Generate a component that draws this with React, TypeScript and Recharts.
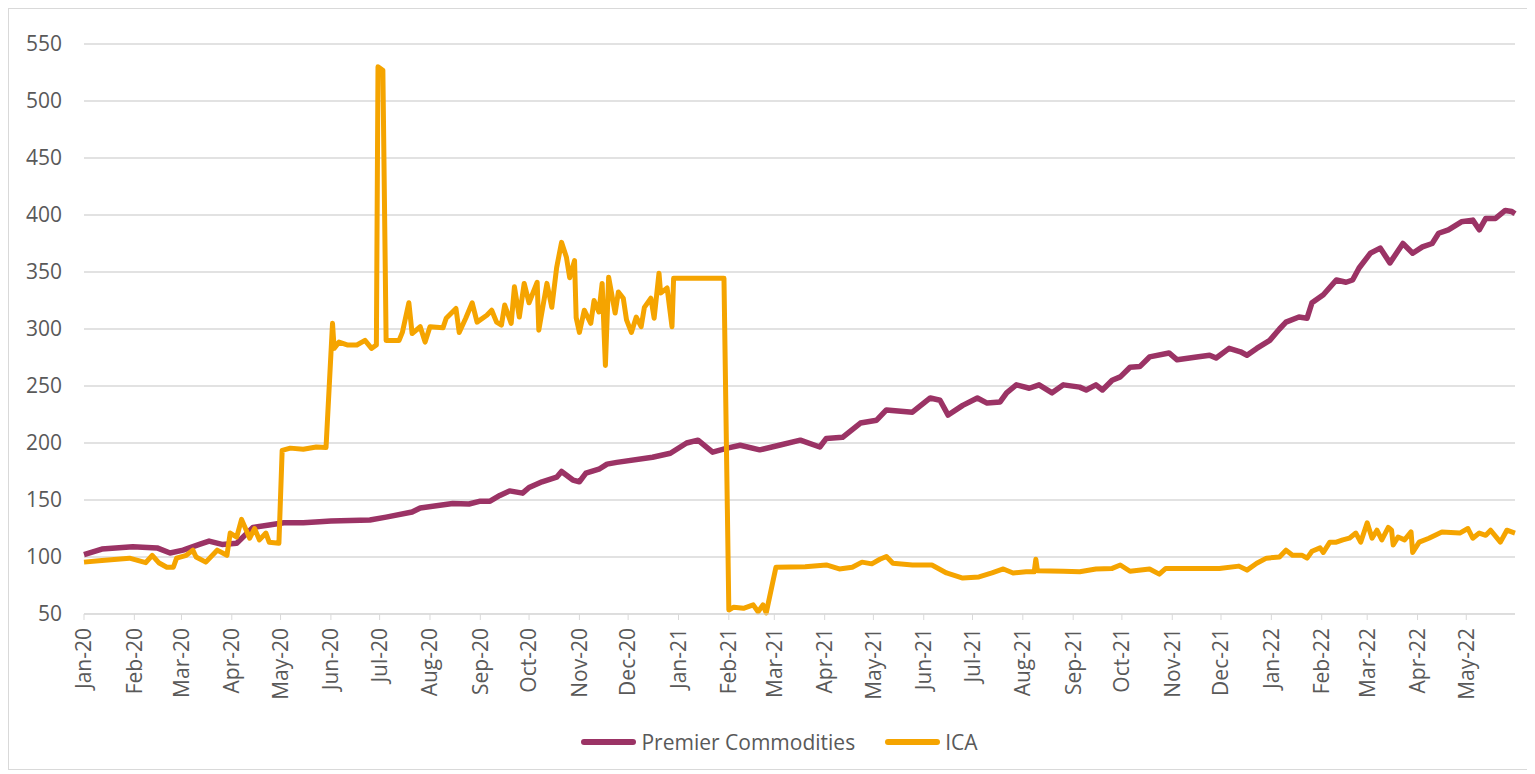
import { CartesianGrid, Legend, Line, LineChart, XAxis, YAxis } from 'recharts';

// [date, index value]
const premierSeries: [string, number][] = [
  ['2020-01-01', 102], ['2020-01-12', 107], ['2020-01-31', 109], ['2020-02-15', 108],
  ['2020-02-23', 103.5], ['2020-03-02', 106], ['2020-03-12', 111], ['2020-03-18', 114],
  ['2020-03-26', 111], ['2020-04-04', 112], ['2020-04-14', 126], ['2020-04-24', 128],
  ['2020-05-03', 130], ['2020-05-15', 130], ['2020-05-25', 131], ['2020-06-01', 131.5],
  ['2020-06-25', 132.5], ['2020-07-05', 135], ['2020-07-21', 139.5], ['2020-07-26', 143],
  ['2020-08-15', 147], ['2020-08-25', 146.5], ['2020-09-01', 149], ['2020-09-07', 149],
  ['2020-09-13', 154], ['2020-09-19', 158], ['2020-09-27', 156], ['2020-10-01', 161],
  ['2020-10-09', 166], ['2020-10-18', 170], ['2020-10-21', 175], ['2020-10-28', 167.5],
  ['2020-11-01', 166], ['2020-11-05', 173.5], ['2020-11-13', 177], ['2020-11-18', 181.5],
  ['2020-11-24', 183], ['2020-12-16', 187.5], ['2020-12-27', 191], ['2021-01-06', 200],
  ['2021-01-13', 202.5], ['2021-01-22', 192], ['2021-01-31', 195.5], ['2021-02-08', 198],
  ['2021-02-20', 194], ['2021-03-04', 198], ['2021-03-17', 202.5], ['2021-03-29', 196.5],
  ['2021-04-02', 204], ['2021-04-12', 205], ['2021-04-23', 217.5], ['2021-05-03', 220],
  ['2021-05-09', 229], ['2021-05-25', 227], ['2021-06-05', 239.5], ['2021-06-11', 237.5],
  ['2021-06-16', 224.5], ['2021-06-25', 233], ['2021-07-04', 239.5], ['2021-07-10', 235],
  ['2021-07-18', 236], ['2021-07-22', 244], ['2021-07-28', 251], ['2021-08-05', 248],
  ['2021-08-11', 251], ['2021-08-19', 244], ['2021-08-26', 251], ['2021-09-05', 249],
  ['2021-09-09', 246.5], ['2021-09-15', 251], ['2021-09-19', 246.5], ['2021-09-25', 255],
  ['2021-09-30', 258], ['2021-10-06', 266.5], ['2021-10-12', 267], ['2021-10-18', 275.5],
  ['2021-10-30', 279], ['2021-11-04', 273], ['2021-11-16', 275.5], ['2021-11-24', 277],
  ['2021-11-28', 274.5], ['2021-12-06', 283], ['2021-12-13', 280], ['2021-12-17', 277],
  ['2021-12-23', 283], ['2021-12-31', 290], ['2022-01-06', 300], ['2022-01-10', 306],
  ['2022-01-18', 310.5], ['2022-01-23', 309.5], ['2022-01-26', 323], ['2022-02-02', 330],
  ['2022-02-10', 343], ['2022-02-16', 341], ['2022-02-20', 343], ['2022-02-24', 353.5],
  ['2022-03-03', 366.5], ['2022-03-09', 371], ['2022-03-15', 358], ['2022-03-23', 375],
  ['2022-03-29', 366.5], ['2022-04-04', 372], ['2022-04-10', 375], ['2022-04-14', 384],
  ['2022-04-20', 387], ['2022-04-28', 394], ['2022-05-05', 395.5], ['2022-05-09', 387],
  ['2022-05-13', 397], ['2022-05-19', 397], ['2022-05-25', 404], ['2022-05-29', 403],
  ['2022-05-31', 401],
];

const icaSeries: [string, number][] = [
  ['2020-01-01', 95.5], ['2020-01-12', 97], ['2020-01-29', 99], ['2020-02-08', 95],
  ['2020-02-12', 101.5], ['2020-02-16', 95], ['2020-02-21', 91], ['2020-02-25', 91],
  ['2020-02-27', 99], ['2020-03-04', 101.5], ['2020-03-08', 106], ['2020-03-10', 100],
  ['2020-03-16', 95.5], ['2020-03-23', 106], ['2020-03-29', 101.5], ['2020-03-31', 121],
  ['2020-04-04', 117.5], ['2020-04-07', 133], ['2020-04-12', 116.5], ['2020-04-15', 125],
  ['2020-04-18', 115], ['2020-04-22', 121], ['2020-04-24', 113], ['2020-04-30', 112],
  ['2020-05-02', 193.5], ['2020-05-07', 195.5], ['2020-05-15', 194.5], ['2020-05-23', 196.5],
  ['2020-05-29', 196], ['2020-06-02', 305], ['2020-06-03', 283], ['2020-06-06', 288.5],
  ['2020-06-11', 286], ['2020-06-17', 286], ['2020-06-22', 290], ['2020-06-26', 283],
  ['2020-06-29', 286], ['2020-06-30', 530], ['2020-07-03', 527], ['2020-07-05', 290],
  ['2020-07-13', 290], ['2020-07-15', 297], ['2020-07-19', 323], ['2020-07-21', 296],
  ['2020-07-26', 302], ['2020-07-29', 288.5], ['2020-08-01', 302], ['2020-08-09', 301],
  ['2020-08-11', 309.5], ['2020-08-17', 318], ['2020-08-19', 297], ['2020-08-23', 309.5],
  ['2020-08-27', 323], ['2020-08-30', 306], ['2020-09-05', 312], ['2020-09-08', 316.5],
  ['2020-09-11', 306], ['2020-09-14', 303.5], ['2020-09-16', 321], ['2020-09-20', 305],
  ['2020-09-22', 337], ['2020-09-25', 310.5], ['2020-09-28', 340], ['2020-10-01', 323],
  ['2020-10-06', 341], ['2020-10-07', 299], ['2020-10-12', 340], ['2020-10-15', 319],
  ['2020-10-18', 354], ['2020-10-21', 376], ['2020-10-24', 363], ['2020-10-26', 345],
  ['2020-10-29', 360], ['2020-10-30', 310], ['2020-11-01', 297], ['2020-11-04', 316.5],
  ['2020-11-08', 305], ['2020-11-10', 325], ['2020-11-13', 315], ['2020-11-15', 340],
  ['2020-11-17', 268], ['2020-11-19', 345.5], ['2020-11-23', 314], ['2020-11-25', 332.5],
  ['2020-11-28', 327], ['2020-11-30', 308], ['2020-12-03', 297], ['2020-12-06', 310.5],
  ['2020-12-09', 302], ['2020-12-11', 319], ['2020-12-15', 327], ['2020-12-17', 309.5],
  ['2020-12-20', 349], ['2020-12-21', 331.5], ['2020-12-25', 336], ['2020-12-28', 302],
  ['2020-12-29', 344.5], ['2021-01-29', 344.5], ['2021-02-01', 53.5], ['2021-02-04', 56],
  ['2021-02-10', 55], ['2021-02-16', 58], ['2021-02-19', 52], ['2021-02-22', 58],
  ['2021-02-24', 51], ['2021-03-02', 91], ['2021-03-20', 91.5], ['2021-04-02', 93],
  ['2021-04-10', 89.5], ['2021-04-18', 91], ['2021-04-24', 95.5], ['2021-04-30', 94],
  ['2021-05-05', 98], ['2021-05-09', 100.5], ['2021-05-13', 94.5], ['2021-05-25', 93],
  ['2021-06-06', 93], ['2021-06-15', 86], ['2021-06-25', 81.5], ['2021-07-05', 82.5],
  ['2021-07-13', 86], ['2021-07-20', 89.5], ['2021-07-26', 86], ['2021-08-03', 87],
  ['2021-08-08', 87], ['2021-08-09', 98], ['2021-08-10', 88], ['2021-08-26', 87.5],
  ['2021-09-05', 87], ['2021-09-15', 89.5], ['2021-09-25', 90], ['2021-09-30', 93],
  ['2021-10-06', 87.5], ['2021-10-18', 89.5], ['2021-10-24', 85], ['2021-10-28', 90],
  ['2021-11-10', 90], ['2021-11-30', 90], ['2021-12-12', 92], ['2021-12-17', 88.5],
  ['2021-12-23', 94.5], ['2021-12-29', 99], ['2022-01-06', 100], ['2022-01-10', 106],
  ['2022-01-14', 101.5], ['2022-01-20', 101.5], ['2022-01-23', 99], ['2022-01-26', 105],
  ['2022-01-31', 108], ['2022-02-02', 104], ['2022-02-06', 113], ['2022-02-10', 113],
  ['2022-02-14', 115], ['2022-02-18', 116.5], ['2022-02-22', 121], ['2022-02-25', 113],
  ['2022-03-01', 130], ['2022-03-04', 116.5], ['2022-03-07', 123.5], ['2022-03-10', 115],
  ['2022-03-14', 126], ['2022-03-16', 123.5], ['2022-03-17', 110.5], ['2022-03-20', 117.5],
  ['2022-03-24', 115], ['2022-03-28', 122], ['2022-03-29', 104], ['2022-04-02', 113],
  ['2022-04-08', 116.5], ['2022-04-16', 122], ['2022-04-27', 121], ['2022-05-02', 125],
  ['2022-05-05', 116.5], ['2022-05-09', 121], ['2022-05-13', 119], ['2022-05-16', 123.5],
  ['2022-05-22', 113], ['2022-05-26', 123.5], ['2022-05-31', 121],
];

const monthLabels = [
  'Jan-20', 'Feb-20', 'Mar-20', 'Apr-20', 'May-20', 'Jun-20', 'Jul-20', 'Aug-20', 'Sep-20',
  'Oct-20', 'Nov-20', 'Dec-20', 'Jan-21', 'Feb-21', 'Mar-21', 'Apr-21', 'May-21', 'Jun-21',
  'Jul-21', 'Aug-21', 'Sep-21', 'Oct-21', 'Nov-21', 'Dec-21', 'Jan-22', 'Feb-22', 'Mar-22',
  'Apr-22', 'May-22',
];
const yTicks = [50, 100, 150, 200, 250, 300, 350, 400, 450, 500, 550];

const PURPLE = '#9b3365';
const ORANGE = '#f5a400';
const TEXT = '#595959';
const GRID = '#d9d9d9';
const FONT = 21;

const dayOf = (iso: string) => Date.parse(iso + 'T00:00:00Z') / 86400000;
const toPoints = (s: [string, number][]) => s.map(([d, v]) => ({ t: dayOf(d), v }));

const premierData = toPoints(premierSeries);
const icaData = toPoints(icaSeries);
const monthTicks = monthLabels.map((_, i) => Date.UTC(2020, i, 1) / 86400000);
const labelFor = new Map(monthTicks.map((t, i) => [t, monthLabels[i]]));

const MonthTick = (props: any) => {
  const { x, y, payload } = props;
  return (
    <text
      x={x}
      y={y}
      transform={`rotate(-90, ${x}, ${y})`}
      textAnchor="end"
      dy="0.35em"
      fill={TEXT}
      fontSize={FONT}
    >
      {labelFor.get(payload.value)}
    </text>
  );
};

const legendItems = [
  { name: 'Premier Commodities', color: PURPLE },
  { name: 'ICA', color: ORANGE },
];

const ChartLegend = () => (
  <div
    style={{
      display: 'flex',
      justifyContent: 'center',
      alignItems: 'center',
      height: 45,
      paddingLeft: 18,
      fontSize: FONT,
      color: TEXT,
    }}
  >
    {legendItems.map((it, i) => (
      <div key={it.name} style={{ display: 'flex', alignItems: 'center', marginRight: i === 0 ? 30 : 0 }}>
        <span
          style={{ display: 'inline-block', width: 55, height: 6, borderRadius: 3, background: it.color, marginRight: 5 }}
        />
        <span>{it.name}</span>
      </div>
    ))}
  </div>
);

export default function App() {
  return (
    <div
      style={{
        width: 1523,
        height: 760,
        border: `1px solid ${GRID}`,
        fontFamily: '"Open Sans", sans-serif',
        background: '#fff',
      }}
    >
      <LineChart width={1523} height={760} margin={{ top: 35, right: 17, bottom: 5, left: 15 }}>
        <CartesianGrid vertical={false} stroke={GRID} strokeWidth={1.5} />
        <XAxis
          type="number"
          dataKey="t"
          domain={[dayOf('2020-01-01'), dayOf('2022-05-31')]}
          ticks={monthTicks}
          tick={<MonthTick />}
          tickSize={6}
          tickMargin={8}
          height={105}
          stroke={GRID}
          interval={0}
        />
        <YAxis
          domain={[50, 550]}
          ticks={yTicks}
          width={60}
          axisLine={false}
          tickLine={false}
          tickMargin={16}
          tick={{ fill: TEXT, fontSize: FONT }}
        />
        <Legend verticalAlign="bottom" content={<ChartLegend />} wrapperStyle={{ left: 0, width: 1523 }} />
        <Line
          data={premierData}
          dataKey="v"
          name="Premier Commodities"
          type="linear"
          stroke={PURPLE}
          strokeWidth={5.5}
          dot={false}
          strokeLinejoin="round"
          isAnimationActive={false}
        />
        <Line
          data={icaData}
          dataKey="v"
          name="ICA"
          type="linear"
          stroke={ORANGE}
          strokeWidth={5}
          dot={false}
          strokeLinejoin="round"
          isAnimationActive={false}
        />
      </LineChart>
    </div>
  );
}
